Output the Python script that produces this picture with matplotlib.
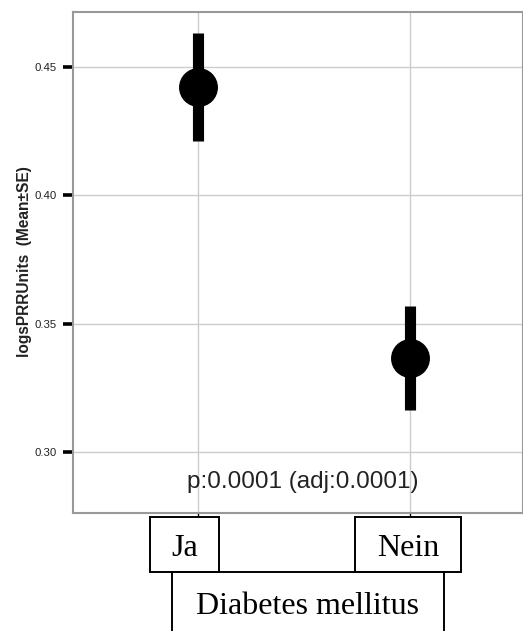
import matplotlib
matplotlib.use("Agg")
import matplotlib.pyplot as plt
from matplotlib.patches import Rectangle

# data
groups = ["Ja", "Nein"]
means = [0.4422, 0.3367]
se = [0.0212, 0.0202]
ptext = "p:0.0001 (adj:0.0001)"
factor = "Diabetes mellitus"
ylabel = "logsPRRUnits  (Mean\u00b1SE)"
yticks = [0.30, 0.35, 0.40, 0.45]

W, H = 523, 631
fig = plt.figure(figsize=(W / 100, H / 100), dpi=100)


def fx(x):
    return x / W


def fy(y):
    return 1 - y / H


ax = fig.add_axes([fx(73), fy(513), fx(523) - fx(73), fy(12) - fy(513)])
xpos = list(range(1, len(groups) + 1))

ax.set_xlim(0.41, 2.535)
ax.set_ylim(0.2763, 0.4714)
ax.set_xticks(xpos)
ax.set_xticklabels([])
ax.set_yticks(yticks)
ax.set_yticklabels(["%.2f" % t for t in yticks], fontsize=8.2,
                   family="Liberation Sans", color="#222222")
ax.tick_params(axis="y", length=7, width=2.6, color="black", pad=5)
ax.tick_params(axis="x", length=3, width=1, color="black")
ax.grid(True, color="#cccccc", linewidth=1)
ax.set_axisbelow(True)
for s in ax.spines.values():
    s.set_color("#999999")
    s.set_linewidth(1.5)

ax.vlines(xpos, [m - e for m, e in zip(means, se)],
          [m + e for m, e in zip(means, se)],
          colors="black", linewidth=8, capstyle="butt", zorder=3)
ax.plot(xpos, means, "o", color="black", markersize=27, zorder=4)

ax.text(0.511, 0.062, ptext, transform=ax.transAxes, ha="center", va="center",
        fontsize=17.5, family="Liberation Sans", color="#222222")

fig.text(fx(25), fy(262), ylabel, rotation=90, ha="center", va="center",
         fontsize=11.2, fontweight="bold", family="Liberation Sans", color="#222222")

# label boxes under the panel
boxes = [(150, 517, 219, 572, "Ja", 549), (355, 517, 461, 572, "Nein", 549),
         (172, 572, 444, 640, factor, 606)]
for x0, y0, x1, y1, lab, cy in boxes:
    fig.add_artist(Rectangle((fx(x0), fy(y1)), fx(x1) - fx(x0), fy(y0) - fy(y1),
                             transform=fig.transFigure, fill=False,
                             edgecolor="black", linewidth=1.4))
    fig.text(fx((x0 + x1) / 2), fy(cy), lab, ha="center", va="center",
             fontsize=23, family="Liberation Serif", color="black")

fig.savefig("out.png", dpi=100)
